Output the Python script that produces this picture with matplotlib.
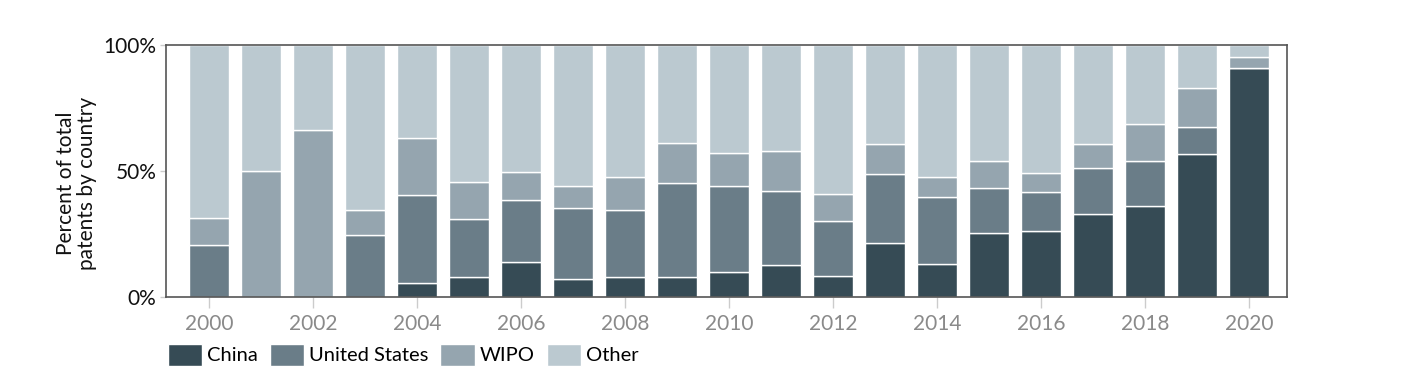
import numpy as np
import matplotlib.pyplot as plt
from matplotlib.ticker import FuncFormatter

plt.rcParams['font.family'] = ['Lato', 'DejaVu Sans']

# Data (percent of total patents)
years = list(range(2000, 2021))
china = [0, 0, 0, 0, 5.9, 8.0, 14.2, 7.2, 8.3, 8.1, 10.1, 12.8, 8.4, 21.5, 13.2, 25.7, 26.2, 33.3, 36.3, 56.9, 91.2]
us = [20.8, 0, 0, 24.8, 34.8, 23.0, 24.4, 28.4, 26.4, 37.3, 34.0, 29.3, 22.0, 27.5, 26.7, 17.6, 15.5, 18.1, 17.9, 10.9, 0]
wipo = [10.6, 50.0, 66.6, 10.0, 22.5, 14.7, 11.2, 8.5, 13.0, 16.0, 13.4, 16.2, 10.7, 11.8, 8.1, 10.7, 7.7, 9.5, 14.5, 15.5, 4.2]
other = [100 - c - u - w for c, u, w in zip(china, us, wipo)]

series = [('China', china, '#364B55'),
          ('United States', us, '#6A7D88'),
          ('WIPO', wipo, '#95A5AF'),
          ('Other', other, '#BBC9D0')]

fig = plt.figure(figsize=(14.02, 3.76), dpi=100)
ax = fig.add_axes([0.1184, 0.2088, 0.7996, 0.6702])

bottom = np.zeros(len(years))
for name, vals, col in series:
    vals = np.array(vals, dtype=float)
    ax.bar(years, vals, bottom=bottom, width=0.78, color=col, label=name,
           edgecolor='white', linewidth=1)
    bottom += vals

ax.set_xlim(1999.17, 2020.73)
ax.set_ylim(0, 100)
ax.set_xticks(range(2000, 2021, 2))
ax.set_yticks([0, 50, 100])
ax.yaxis.set_major_formatter(FuncFormatter(lambda v, p: f'{int(v)}%'))
ax.tick_params(axis='x', colors='#cccccc', labelcolor='#8a8a8a', labelsize=15,
               length=8, width=1, pad=4)
ax.tick_params(axis='y', colors='#cccccc', labelcolor='#111111', labelsize=15,
               length=4, width=1, pad=3)
for s in ax.spines.values():
    s.set_color('#555555')
    s.set_linewidth(1.2)

ax.set_ylabel('Percent of total\npatents by country', fontsize=15, color='#111111',
              linespacing=1.05)
ax.yaxis.set_label_coords(-0.0616, 0.454)

fig.legend(loc='upper left', bbox_to_anchor=(0.1195, 0.086), ncol=4, frameon=False,
           fontsize=14.5, handlelength=1.7, handleheight=1.3, handletextpad=0.25,
           columnspacing=0.6, borderaxespad=0, borderpad=0)

fig.savefig('out.png', dpi=100)
